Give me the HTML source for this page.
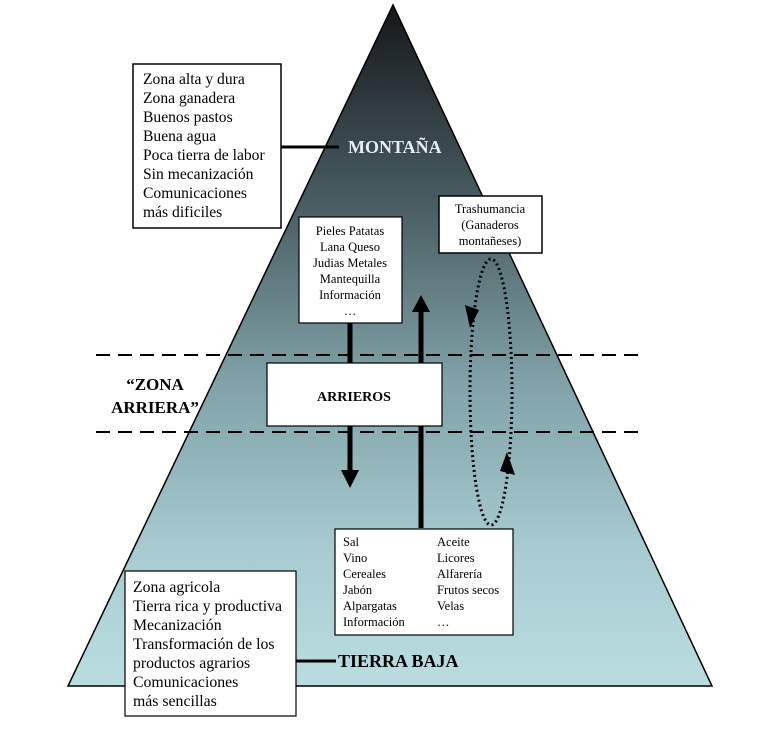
<!DOCTYPE html>
<html><head><meta charset="utf-8"><style>body{margin:0;background:#fff}svg{display:block}</style></head>
<body>
<svg width="764" height="738" viewBox="0 0 764 738" xmlns="http://www.w3.org/2000/svg" font-family="Liberation Serif, serif" xml:space="preserve">
<defs>
<linearGradient id="g" x1="0" y1="0" x2="0" y2="1">
<stop offset="0" stop-color="#15181b"/>
<stop offset="0.3" stop-color="#4b5f64"/>
<stop offset="0.55" stop-color="#7fa1a7"/>
<stop offset="0.8" stop-color="#a7cbd0"/>
<stop offset="1" stop-color="#b9dde0"/>
</linearGradient>
</defs>
<polygon points="393,5 712,686 68,686" fill="url(#g)" stroke="#000" stroke-width="1.5"/>
<line x1="96" y1="355" x2="640" y2="355" stroke="#000" stroke-width="2" stroke-dasharray="14,8"/>
<line x1="96" y1="432" x2="640" y2="432" stroke="#000" stroke-width="2" stroke-dasharray="14,8"/>
<rect x="133" y="64" width="148" height="164" fill="#fff" stroke="#000" stroke-width="1.5"/>
<g font-size="15.6" fill="#000">
<text x="143" y="84">Zona alta y dura</text>
<text x="143" y="103">Zona ganadera</text>
<text x="143" y="122">Buenos pastos</text>
<text x="143" y="141">Buena agua</text>
<text x="143" y="160">Poca tierra de labor</text>
<text x="143" y="179">Sin mecanización</text>
<text x="143" y="198">Comunicaciones</text>
<text x="143" y="217">más dificiles</text>
</g>
<line x1="281" y1="147" x2="339" y2="147" stroke="#000" stroke-width="3"/>
<text x="348" y="153" font-size="18" font-weight="bold" fill="#e8eef0">MONTAÑA</text>
<rect x="299" y="217" width="103" height="106" fill="#fff" stroke="#000" stroke-width="1.2"/>
<g font-size="12.5" text-anchor="middle">
<text x="350" y="235">Pieles  Patatas</text>
<text x="350" y="251">Lana    Queso</text>
<text x="350" y="267">Judias Metales</text>
<text x="350" y="283">Mantequilla</text>
<text x="350" y="299">Información</text>
<text x="350" y="315">…</text>
</g>
<rect x="439" y="196" width="103" height="57" fill="#fff" stroke="#000" stroke-width="1.5"/>
<g font-size="12.5" text-anchor="middle">
<text x="490" y="213">Trashumancia</text>
<text x="490" y="229">(Ganaderos</text>
<text x="490" y="245">montañeses)</text>
</g>
<line x1="350" y1="323" x2="350" y2="470" stroke="#000" stroke-width="5"/>
<polygon points="341,470 359,470 350,488" fill="#000"/>
<line x1="421" y1="528" x2="421" y2="312" stroke="#000" stroke-width="5"/>
<polygon points="412,312 430,312 421,295" fill="#000"/>
<ellipse cx="491" cy="392" rx="21" ry="133" fill="none" stroke="#000" stroke-width="3" stroke-dasharray="2,3"/>
<polygon points="465,305 479,310 470,328" fill="#000"/>
<polygon points="507,452 515,475 500,471" fill="#000"/>
<rect x="267" y="363" width="175" height="63" fill="#fff" stroke="#000" stroke-width="1.2"/>
<text x="354" y="401" font-size="14" font-weight="bold" text-anchor="middle">ARRIEROS</text>
<text x="155" y="390" font-size="17" font-weight="bold" text-anchor="middle">“ZONA</text>
<text x="155" y="413" font-size="17" font-weight="bold" text-anchor="middle">ARRIERA”</text>
<rect x="335" y="529" width="178" height="106" fill="#fff" stroke="#000" stroke-width="1.2"/>
<g font-size="12.5">
<text x="343" y="546">Sal</text><text x="437" y="546">Aceite</text>
<text x="343" y="562">Vino</text><text x="437" y="562">Licores</text>
<text x="343" y="578">Cereales</text><text x="437" y="578">Alfarería</text>
<text x="343" y="594">Jabón</text><text x="437" y="594">Frutos secos</text>
<text x="343" y="610">Alpargatas</text><text x="437" y="610">Velas</text>
<text x="343" y="626">Información</text><text x="437" y="626">…</text>
</g>
<rect x="125" y="571" width="171" height="145" fill="#fff" stroke="#000" stroke-width="1.2"/>
<g font-size="15.8">
<text x="133" y="592">Zona agricola</text>
<text x="133" y="611">Tierra rica y productiva</text>
<text x="133" y="630">Mecanización</text>
<text x="133" y="649">Transformación de los</text>
<text x="133" y="668">productos agrarios</text>
<text x="133" y="687">Comunicaciones</text>
<text x="133" y="706">más sencillas</text>
</g>
<line x1="296" y1="661" x2="336" y2="661" stroke="#000" stroke-width="3"/>
<text x="338" y="667" font-size="18" font-weight="bold">TIERRA BAJA</text>
</svg>
</body></html>
